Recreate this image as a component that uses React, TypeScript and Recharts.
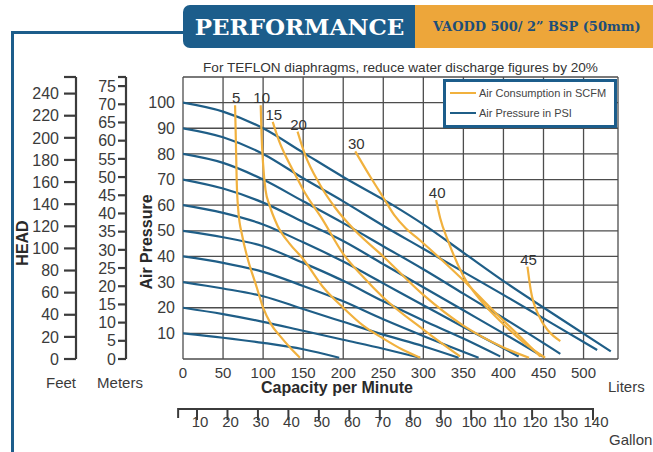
import React from "react";
import { LineChart, Line, XAxis, YAxis, CartesianGrid, Legend, Label } from "recharts";

const FONT = '"Liberation Sans", Arial, Helvetica, sans-serif';
const SERIF = '"DejaVu Serif", "Liberation Serif", serif';
const FRAME = "#1c5d8b";
const BLUE = "#1f5e87";
const ORANGE = "#f1b13e";
const GRID = "#4d4d4d";
const INK = "#3b3b3b";

// axes
const LITER_DOMAIN = [0, 543];
const LITER_TICKS = [0, 50, 100, 150, 200, 250, 300, 350, 400, 450, 500, 543];
const PSI_DOMAIN = [0, 110];
const PSI_TICKS = [0, 10, 20, 30, 40, 50, 60, 70, 80, 90, 100, 110];
const FEET_DOMAIN = [0, 255];
const FEET_TICKS = [0, 20, 40, 60, 80, 100, 120, 140, 160, 180, 200, 220, 240, 255];
const METER_DOMAIN = [0, 77.5];
const METER_TICKS = [0, 5, 10, 15, 20, 25, 30, 35, 40, 45, 50, 55, 60, 65, 70, 75, 77.5];
const GALLON_DOMAIN = [5.4, 148.2];
const GALLON_TICKS = [10, 20, 30, 40, 50, 60, 70, 80, 90, 100, 110, 120, 130, 140];
const GALLON_START = 3.8;

// air pressure curves (liters/min, psi)
const PSI_100 = [[0, 100], [50, 96.5], [100, 90], [150, 80.5], [200, 71], [262, 60], [300, 52.5], [350, 41.5], [402, 30], [470, 16], [534, 3]];
const PSI_90 = [[0, 90], [50, 86.5], [100, 80], [150, 70.5], [200, 61.5], [250, 52], [300, 43], [350, 34], [400, 25], [460, 14], [517, 3.5]];
const PSI_80 = [[0, 80], [50, 76.5], [100, 70], [150, 61.5], [200, 53], [250, 44], [300, 35], [350, 25.5], [400, 16], [471, 2]];
const PSI_70 = [[0, 70], [50, 66.5], [100, 61], [150, 53.5], [200, 46], [250, 37], [300, 28], [350, 19], [400, 10], [449, 1]];
const PSI_60 = [[0, 60], [50, 57], [100, 52.5], [150, 45.5], [200, 38], [250, 29.5], [300, 21], [350, 12.5], [419, 1]];
const PSI_50 = [[0, 50], [50, 47.5], [100, 44], [150, 37.5], [200, 30.5], [250, 22.5], [300, 15], [350, 8], [396, 1]];
const PSI_40 = [[0, 40], [50, 37.5], [100, 34], [150, 28.5], [200, 22.5], [250, 15.5], [300, 9], [369, 0.5]];
const PSI_30 = [[0, 30], [50, 27.5], [100, 24.5], [150, 19.5], [200, 14.5], [250, 9.5], [300, 5], [344, 0.5]];
const PSI_20 = [[0, 20], [50, 17.5], [100, 14.5], [150, 11], [200, 7.5], [250, 4], [296, 0.5]];
const PSI_10 = [[0, 10], [50, 8.3], [100, 6.3], [150, 3.8], [195, 0.5]];

// air consumption curves (liters/min, psi)
const SCFM_5 = [[65, 99], [66, 85], [67, 70], [69, 58], [74, 48], [80, 40], [92, 28], [100, 20], [110, 13.5], [121, 9], [135, 4], [146, 0.5]];
const SCFM_10 = [[97, 99], [98, 88], [100, 76], [103, 66], [108, 60], [118, 52], [133, 45], [150, 39], [175, 28], [200, 20], [225, 13], [250, 8], [275, 3.5], [296, 0.5]];
const SCFM_15 = [[112, 92.5], [120, 85], [130, 78], [140, 72], [150, 66], [175, 54], [200, 41], [225, 32], [250, 24], [300, 11.5], [346, 1]];
const SCFM_20 = [[143, 88.7], [152, 80], [171, 68], [190, 59], [215, 50], [250, 40], [300, 25], [350, 13], [400, 4.5], [432, 0.5]];
const SCFM_30 = [[215, 81], [234, 71], [250, 63], [264, 56], [278, 51], [295, 46.5], [320, 39.5], [349, 31], [390, 18], [420, 9], [446, 1]];
const SCFM_40 = [[316, 62], [321, 55], [331, 46], [349, 33], [374, 22], [402, 13], [425, 6.5], [452, 0.5]];
const SCFM_45 = [[430, 36], [434, 27], [444, 17], [456, 11], [471, 7]];

const toRows = (pts: number[][]) => pts.map(([x, y]) => ({ x, y }));

const PRESSURE_CURVES = [PSI_100, PSI_90, PSI_80, PSI_70, PSI_60, PSI_50, PSI_40, PSI_30, PSI_20, PSI_10].map(toRows);
const AIR_CURVES = [
  { scfm: 5, rows: toRows(SCFM_5) },
  { scfm: 10, rows: toRows(SCFM_10) },
  { scfm: 15, rows: toRows(SCFM_15) },
  { scfm: 20, rows: toRows(SCFM_20) },
  { scfm: 30, rows: toRows(SCFM_30) },
  { scfm: 40, rows: toRows(SCFM_40) },
  { scfm: 45, rows: toRows(SCFM_45) },
];

const LEGEND_ITEMS = [
  { label: "Air Consumption in SCFM", color: ORANGE },
  { label: "Air Pressure in PSI", color: BLUE },
];

const CHART_W = 653;
const CHART_H = 452;
const MARGIN = { top: 77, right: 35, bottom: 0, left: 10 };
const FEET_W = 66;
const METER_W = 50;
const PSI_W = 57;
const PLOT_W = CHART_W - MARGIN.left - FEET_W - METER_W - PSI_W - MARGIN.right;
const GAL_PX = PLOT_W / (GALLON_DOMAIN[1] - GALLON_DOMAIN[0]);

function GallonTick(props: any) {
  const { x, y, payload } = props;
  const v = Number(payload.value);
  const i = GALLON_TICKS.indexOf(v);
  const prev = i <= 0 ? GALLON_START : GALLON_TICKS[i - 1];
  const x0 = x - (v - prev) * GAL_PX;
  return (
    <g>
      <line x1={x0} y1={y} x2={x} y2={y} stroke={INK} strokeWidth={2} />
      {i === 0 && <line x1={x0} y1={y - 1} x2={x0} y2={y + 9} stroke={INK} strokeWidth={2} />}
      <line x1={x} y1={y - 1} x2={x} y2={y + 11} stroke={INK} strokeWidth={2} />
      <text x={x + 3} y={y + 18} textAnchor="middle" fontSize={15} fill={INK}>
        {v}
      </text>
    </g>
  );
}

function LegendBox() {
  return (
    <div
      style={{
        width: 168,
        height: 42,
        border: `3px solid ${FRAME}`,
        background: "#fff",
        paddingTop: 1,
        fontSize: 11,
        color: "#444",
        fontFamily: FONT,
      }}
    >
      {LEGEND_ITEMS.map((it) => (
        <div key={it.label} style={{ height: 20, display: "flex", alignItems: "center" }}>
          <span style={{ display: "inline-block", width: 26, height: 2, background: it.color, marginLeft: 4, marginRight: 3 }} />
          {it.label}
        </div>
      ))}
    </div>
  );
}

export default function App() {
  return (
    <div style={{ position: "absolute", left: 0, top: 0, width: CHART_W, height: CHART_H, background: "#fff", fontFamily: FONT, overflow: "hidden" }}>
      {/* frame and header */}
      <div style={{ position: "absolute", left: 11, top: 31, width: 173, height: 3, background: FRAME }} />
      <div style={{ position: "absolute", left: 11, top: 31, width: 3, height: 421, background: FRAME }} />
      <div
        style={{
          position: "absolute", left: 183, top: 5, width: 233, height: 43, background: FRAME,
          borderRadius: "7px 0 0 7px", color: "#fff", fontFamily: SERIF, fontWeight: "bold", fontSize: 23,
          display: "flex", alignItems: "center", justifyContent: "center",
        }}
      >
        PERFORMANCE
      </div>
      <div
        style={{
          position: "absolute", left: 415, top: 5, width: 238, height: 43, background: "#eda63a",
          color: "#1d4e78", fontFamily: SERIF, fontWeight: "bold", fontSize: 13,
          display: "flex", alignItems: "center", paddingLeft: 18, boxSizing: "border-box",
        }}
      >
        VAODD 500/ 2” BSP (50mm)
      </div>
      <div style={{ position: "absolute", left: 183, top: 60, width: 435, textAlign: "center", fontSize: 13.6, color: "#333" }}>
        For TEFLON diaphragms, reduce water discharge figures by 20%
      </div>

      <div style={{ position: "absolute", left: 0, top: 0 }}>
        <LineChart width={CHART_W} height={CHART_H} margin={MARGIN}>
          <CartesianGrid xAxisId="x1" yAxisId="y1" stroke={GRID} strokeWidth={1.3} />
          {/* gallons (outer bottom axis) */}
          <XAxis
            xAxisId="x2" type="number" dataKey="x" scale="linear" domain={GALLON_DOMAIN} ticks={GALLON_TICKS} interval={0}
            height={43} tickSize={0} tickMargin={0} axisLine={false} tickLine={false} allowDataOverflow
            tick={<GallonTick />}
          >
            <Label
              content={(p: any) => (
                <text x={p.viewBox.x + p.viewBox.width - 9} y={p.viewBox.y + 36} fontSize={15} fill={INK}>
                  Gallon
                </text>
              )}
            />
          </XAxis>
          {/* liters (inner bottom axis) */}
          <XAxis
            xAxisId="x1" type="number" dataKey="x" domain={LITER_DOMAIN} ticks={LITER_TICKS} interval={0}
            height={50} tickSize={0} tickMargin={8} axisLine={false} tickLine={false} allowDataOverflow
            tick={{ fontSize: 15, fill: INK }}
            tickFormatter={(v: number) => (v > 500 ? "" : String(v))}
          >
            <Label
              content={(p: any) => (
                <g>
                  <text x={p.viewBox.x + 154} y={p.viewBox.y + 34} textAnchor="middle" fontSize={16} fontWeight="bold" fill="#2a2a2a">
                    Capacity per Minute
                  </text>
                  <text x={p.viewBox.x + p.viewBox.width - 10} y={p.viewBox.y + 33} fontSize={15} fill={INK}>
                    Liters
                  </text>
                </g>
              )}
            />
          </XAxis>
          {/* feet (outermost left) */}
          <YAxis
            yAxisId="y3" type="number" domain={FEET_DOMAIN} ticks={FEET_TICKS} interval={0} width={FEET_W}
            tickSize={12} tickMargin={5} allowDataOverflow
            axisLine={{ stroke: INK, strokeWidth: 2.2 }} tickLine={{ stroke: INK, strokeWidth: 2.2 }}
            tick={{ fontSize: 16, fill: INK }}
            tickFormatter={(v: number) => (v > 240 ? "" : String(v))}
          >
            <Label
              content={(p: any) => {
                const cx = p.viewBox.x + 12;
                const cy = p.viewBox.y + p.viewBox.height / 2 + 25;
                return (
                  <g>
                    <text x={cx} y={cy} transform={`rotate(-90 ${cx} ${cy})`} textAnchor="middle" dominantBaseline="central" fontSize={16} fontWeight="bold" fill="#2a2a2a">
                      HEAD
                    </text>
                    <text x={p.viewBox.x + 51} y={p.viewBox.y + p.viewBox.height + 29} textAnchor="middle" fontSize={15} fill={INK}>
                      Feet
                    </text>
                  </g>
                );
              }}
            />
          </YAxis>
          {/* meters */}
          <YAxis
            yAxisId="y2" type="number" domain={METER_DOMAIN} ticks={METER_TICKS} interval={0} width={METER_W}
            tickSize={8} tickMargin={2} allowDataOverflow
            axisLine={{ stroke: INK, strokeWidth: 2.2 }} tickLine={{ stroke: INK, strokeWidth: 2.2 }}
            tick={{ fontSize: 16, fill: INK }}
            tickFormatter={(v: number) => (v > 75 ? "" : String(v))}
          >
            <Label
              content={(p: any) => (
                <text x={p.viewBox.x + 44} y={p.viewBox.y + p.viewBox.height + 29} textAnchor="middle" fontSize={15} fill={INK}>
                  Meters
                </text>
              )}
            />
          </YAxis>
          {/* air pressure psi (next to plot) */}
          <YAxis
            yAxisId="y1" type="number" domain={PSI_DOMAIN} ticks={PSI_TICKS} interval={0} width={PSI_W}
            tickSize={0} tickMargin={8} axisLine={false} tickLine={false} allowDataOverflow
            tick={{ fontSize: 16, fill: INK }}
            tickFormatter={(v: number) => (v === 0 || v > 100 ? "" : String(v))}
          >
            <Label
              content={(p: any) => (
                <text
                  x={p.viewBox.x + 20} y={p.viewBox.y + p.viewBox.height / 2 + 24}
                  transform={`rotate(-90 ${p.viewBox.x + 20} ${p.viewBox.y + p.viewBox.height / 2 + 24})`}
                  textAnchor="middle" dominantBaseline="central" fontSize={16} fontWeight="bold" fill="#2a2a2a"
                >
                  Air Pressure
                </text>
              )}
            />
          </YAxis>
          <Legend
            layout="horizontal" verticalAlign="middle" align="center"
            wrapperStyle={{ left: 443, top: 79, width: 174, height: 48 }}
            content={() => <LegendBox />}
          />
          {PRESSURE_CURVES.map((rows, i) => (
            <Line
              key={`p${i}`} data={rows} dataKey="y" xAxisId="x1" yAxisId="y1" type="monotone"
              stroke={BLUE} strokeWidth={2.2} dot={false} activeDot={false} isAnimationActive={false} legendType="none"
            />
          ))}
          {AIR_CURVES.map((c) => (
            <Line
              key={`a${c.scfm}`} data={c.rows} dataKey="y" xAxisId="x1" yAxisId="y1" type="monotone"
              stroke={ORANGE} strokeWidth={2.2} dot={false} activeDot={false} isAnimationActive={false} legendType="none"
              label={(p: any) =>
                p.index === 0 ? (
                  <text key="lbl" x={p.x + 1} y={p.y - 2} textAnchor="middle" fontSize={15} fill="#333">
                    {c.scfm}
                  </text>
                ) : null
              }
            />
          ))}
        </LineChart>
      </div>
    </div>
  );
}
